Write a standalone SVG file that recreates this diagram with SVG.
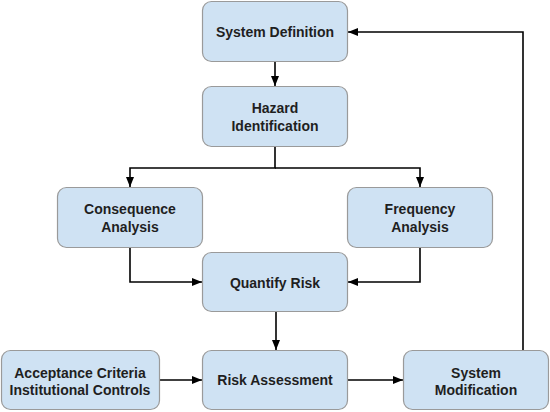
<svg xmlns="http://www.w3.org/2000/svg" width="550" height="412" viewBox="0 0 550 412">
<style>
.box{fill:#cfe2f3;stroke:#9a9a9a;stroke-width:1.2}
.t{font-family:"Liberation Sans",Arial,sans-serif;font-weight:bold;font-size:14px;fill:#1f1f1f;text-anchor:middle}
.c{fill:none;stroke:#000;stroke-width:1.6;marker-end:url(#ah)}
</style>
<defs>
<marker id="ah" viewBox="0 0 10 10" refX="10" refY="5" markerWidth="10" markerHeight="10" markerUnits="userSpaceOnUse" orient="auto">
<path d="M0,1 L10,5 L0,9 Z" fill="#000"/>
</marker>
</defs>
<rect width="550" height="412" fill="#fff"/>
<g id="connectors">
<path class="c" d="M275,62 V86"/>
<path class="c" d="M275,147 V168 H130 V187"/>
<path class="c" d="M275,168 H420 V187"/>
<path class="c" d="M130,248 V282 H202"/>
<path class="c" d="M420,248 V282 H348"/>
<path class="c" d="M276,312 V350"/>
<path class="c" d="M160,380 H202"/>
<path class="c" d="M347,380 H403"/>
<path class="c" d="M523,350 V32 H348"/>
</g>
<g id="system-definition">
<rect class="box" x="202.5" y="1.5" width="145" height="60" rx="9"/>
<text class="t" x="275" y="37">System Definition</text>
</g>
<g id="hazard-identification">
<rect class="box" x="202.5" y="86.5" width="145" height="60" rx="9"/>
<text class="t" x="275" y="113">Hazard</text>
<text class="t" x="275" y="131">Identification</text>
</g>
<g id="consequence-analysis">
<rect class="box" x="57.5" y="187.5" width="145" height="60" rx="9"/>
<text class="t" x="130" y="214">Consequence</text>
<text class="t" x="130" y="232">Analysis</text>
</g>
<g id="frequency-analysis">
<rect class="box" x="347.5" y="187.5" width="145" height="60" rx="9"/>
<text class="t" x="420" y="214">Frequency</text>
<text class="t" x="420" y="232">Analysis</text>
</g>
<g id="quantify-risk">
<rect class="box" x="202.5" y="252.5" width="145" height="59" rx="9"/>
<text class="t" x="275" y="288">Quantify Risk</text>
</g>
<g id="acceptance-criteria">
<rect class="box" x="1.5" y="350.5" width="158" height="59" rx="9"/>
<text class="t" x="80" y="378">Acceptance Criteria</text>
<text class="t" x="80" y="395">Institutional Controls</text>
</g>
<g id="risk-assessment">
<rect class="box" x="202.5" y="350.5" width="145" height="59" rx="9"/>
<text class="t" x="275" y="385">Risk Assessment</text>
</g>
<g id="system-modification">
<rect class="box" x="403.5" y="350.5" width="145" height="59" rx="9"/>
<text class="t" x="476" y="378">System</text>
<text class="t" x="476" y="395">Modification</text>
</g>
</svg>
